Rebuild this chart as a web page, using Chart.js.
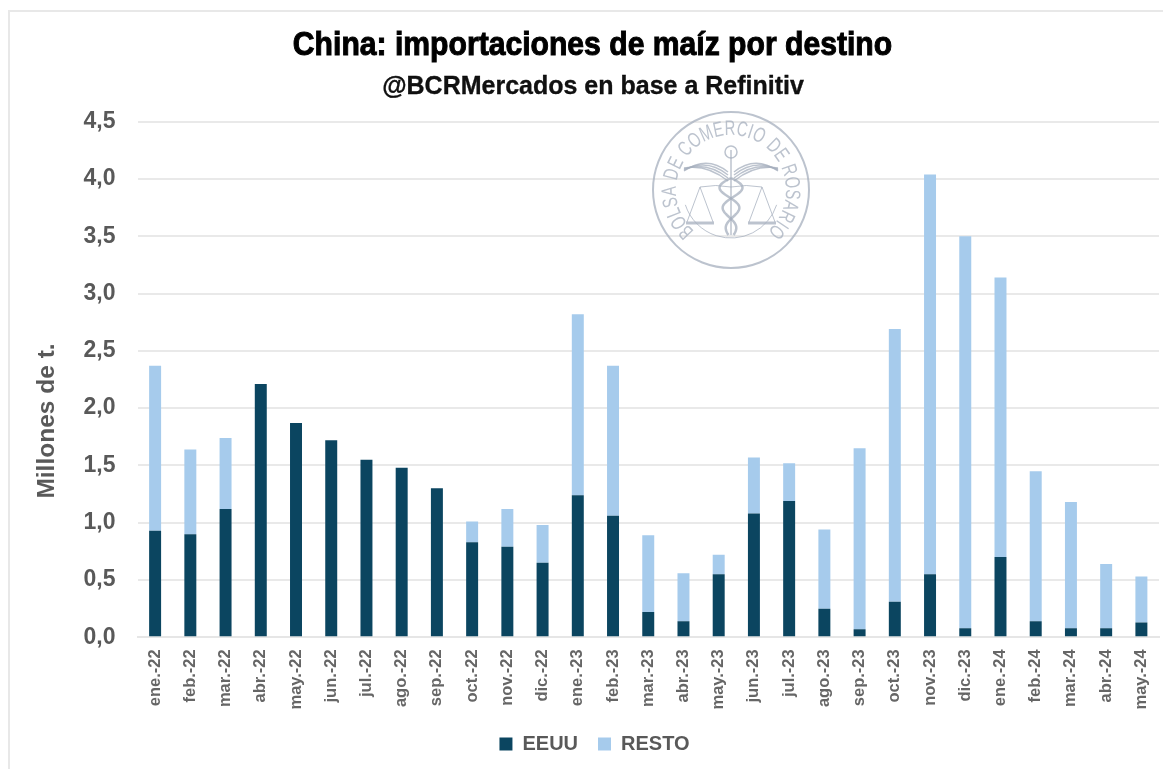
<!DOCTYPE html>
<html lang="es"><head><meta charset="utf-8">
<script src="https://cdn.jsdelivr.net/npm/chart.js@4"></script>
<style>
html,body{margin:0;padding:0;background:#fff;overflow:hidden}
#frame{position:absolute;left:8px;top:10px;width:1155px;height:759px;border-left:2px solid #e8e8e8;border-top:2px solid #e8e8e8;box-sizing:border-box}
canvas{position:absolute;left:0;top:0;filter:blur(0.35px)}
</style></head><body>
<div id="frame"></div>
<canvas id="c" width="1163" height="769"></canvas>
<script>
const categories=["ene.-22","feb.-22","mar.-22","abr.-22","may.-22","jun.-22","jul.-22","ago.-22","sep.-22","oct.-22","nov.-22","dic.-22","ene.-23","feb.-23","mar.-23","abr.-23","may.-23","jun.-23","jul.-23","ago.-23","sep.-23","oct.-23","nov.-23","dic.-23","ene.-24","feb.-24","mar.-24","abr.-24","may.-24"];
const eeuu=[0.93,0.90,1.12,2.21,1.87,1.72,1.55,1.48,1.30,0.83,0.79,0.65,1.24,1.06,0.22,0.14,0.55,1.08,1.19,0.25,0.07,0.31,0.55,0.08,0.70,0.14,0.08,0.08,0.13];
const resto=[1.44,0.74,0.62,0,0,0,0,0,0,0.18,0.33,0.33,1.58,1.31,0.67,0.42,0.17,0.49,0.33,0.69,1.58,2.38,3.49,3.42,2.44,1.31,1.10,0.56,0.40];
const titleText="China: importaciones de maíz por destino";
const subtitleText="@BCRMercados en base a Refinitiv";
const yAxisTitle="Millones de t.";
const sealText="BOLSA DE COMERCIO DE ROSARIO";

const heading={id:'heading',afterDraw(ch){
  const g=ch.ctx;g.save();g.textAlign='center';g.textBaseline='alphabetic';
  g.fillStyle='#000';g.strokeStyle='#000';
  g.save();g.translate(592.5,55);g.scale(0.913,1);g.font='bold 33px "Liberation Sans"';g.lineWidth=1;g.fillText(titleText,0,0);g.strokeText(titleText,0,0);g.restore();
  g.save();g.translate(593,94);g.font='bold 25px "Liberation Sans"';g.lineWidth=0.3;g.fillStyle='#111';g.fillText(subtitleText,0,0);g.strokeText(subtitleText,0,0);g.restore();
  g.save();g.translate(47,421);g.rotate(-Math.PI/2);g.textBaseline='middle';g.font='bold 24.5px "Liberation Sans"';g.fillStyle='#595959';g.fillText(yAxisTitle,0,0);g.restore();
  g.restore();
}};

const seal={id:'seal',afterDatasetsDraw(ch){
  const g=ch.ctx,cx=731,cy=190,col='rgba(165,175,190,0.75)';
  g.save();g.strokeStyle=col;g.fillStyle=col;
  g.lineWidth=2;g.beginPath();g.arc(cx,cy,78,0,Math.PI*2);g.stroke();
  g.lineWidth=1;
  g.beginPath();g.arc(cx,cy,48,0.1*Math.PI,0.9*Math.PI);g.stroke();
  g.font='20px "Liberation Sans"';g.textAlign='center';g.textBaseline='alphabetic';
  const sx=0.74;
  const widths=[...sealText].map(c=>g.measureText(c).width*sx+1.2);
  const total=widths.reduce((a,b)=>a+b,0);
  const a0=-Math.PI*1.27,a1=Math.PI*0.27;let run=0;
  [...sealText].forEach((c,i)=>{const a=a0+(a1-a0)*(run+widths[i]/2)/total;run+=widths[i];
    g.save();g.translate(cx+55*Math.cos(a),cy+55*Math.sin(a));g.rotate(a+Math.PI/2);g.scale(sx,1.05);g.fillText(c,0,0);g.restore();});
  g.lineWidth=1.5;
  g.beginPath();g.moveTo(cx,150);g.lineTo(cx,235);g.stroke();
  g.beginPath();g.arc(cx,152,6,0,Math.PI*2);g.stroke();
  for(const s of[-1,1]){
    for(let k=0;k<4;k++){g.beginPath();g.moveTo(cx+s*3,172+k*3);g.quadraticCurveTo(cx+s*24,155+k*3,cx+s*47,171-k);g.stroke();}
    const px=cx+s*31;
    g.lineWidth=1;
    g.beginPath();g.moveTo(cx,187);g.quadraticCurveTo(cx+s*15,184,px,187);g.moveTo(px,187);g.lineTo(px-13,222);g.moveTo(px,187);g.lineTo(px+13,222);g.stroke();
    g.lineWidth=3;g.beginPath();g.moveTo(px-14,223);g.lineTo(px+14,223);g.stroke();g.lineWidth=1.5;
  }
  g.lineWidth=2.5;
  for(const s of[-1,1]){g.beginPath();
    for(let y=178;y<=235;y+=1){const x=cx+s*13*Math.sin((y-178)/6.5)*(1-(y-178)/85);y===178?g.moveTo(x,y):g.lineTo(x,y);}g.stroke();}
  g.restore();
}};

new Chart(document.getElementById('c'),{
  type:'bar',
  data:{labels:categories,datasets:[
    {label:'EEUU',data:eeuu,backgroundColor:'#0b4560',stack:'s'},
    {label:'RESTO',data:resto,backgroundColor:'#a6cbec',stack:'s'}
  ]},
  options:{
    responsive:false,animation:false,
    layout:{padding:{left:30,right:4,top:121.7,bottom:5}},
    datasets:{bar:{categoryPercentage:1,barPercentage:0.34}},
    scales:{
      x:{stacked:true,
        grid:{display:false},
        border:{color:'#e6e6e6',width:2},
        afterFit(s){s.height=76.7;s.paddingRight=0;s.paddingLeft=0},
        ticks:{color:'#666',minRotation:90,maxRotation:90,padding:4,autoSkip:false,font:{family:'"Liberation Sans"',size:16.5,weight:'bold'}}},
      y:{stacked:true,min:0,max:4.5,
        afterFit(s){s.width=107.5},
        afterBuildTicks(s){s.ticks=[0,0.5,1,1.5,2,2.5,3,3.5,4,4.5].map(v=>({value:v}))},
        grid:{color:'#e9e9e9',lineWidth:2,drawTicks:false},
        border:{display:false},
        ticks:{color:'#595959',padding:22,font:{family:'"Liberation Sans"',size:23,weight:'bold'},callback:v=>v.toFixed(1).replace('.',',')}}
    },
    plugins:{
      title:{display:false},
      legend:{position:'bottom',labels:{color:'#595959',boxWidth:13,boxHeight:13,padding:20,font:{family:'"Liberation Sans"',size:20,weight:'bold'}}},
      tooltip:{enabled:false}
    }
  },
  plugins:[seal,heading]
});
</script></body></html>
